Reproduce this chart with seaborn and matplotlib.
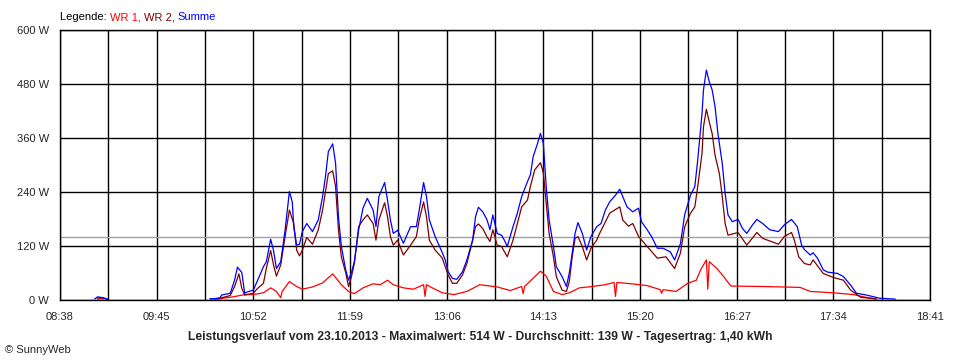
"""
Daily PV power curve (SunnyWeb style): WR 1, WR 2 and their sum.
"""

import numpy as np
import pandas as pd
import matplotlib
matplotlib.use("Agg")
import matplotlib.pyplot as plt
from matplotlib.ticker import FixedLocator, FuncFormatter
import seaborn as sns

# --- data (time of day, watts) ---
summe_time = [
    "09:02", "09:04", "09:06", "09:08", "09:11", "09:12",
    "10:22", "10:25", "10:29", "10:30", "10:36", "10:39", "10:41", "10:44", "10:46", "10:48",
    "10:52", "10:55", "10:59", "11:01", "11:04", "11:06", "11:08", "11:11", "11:14", "11:17",
    "11:19", "11:20", "11:22", "11:24", "11:26", "11:29", "11:33", "11:37", "11:40", "11:42",
    "11:44", "11:47", "11:49", "11:51", "11:53", "11:56", "11:58", "12:00", "12:02", "12:05",
    "12:08", "12:11", "12:15", "12:17", "12:19", "12:23", "12:25", "12:27", "12:29", "12:32",
    "12:36", "12:41", "12:45", "12:47", "12:50", "12:52", "12:54", "12:58", "13:03", "13:05",
    "13:07", "13:10", "13:13", "13:17", "13:20", "13:24", "13:26", "13:28", "13:31", "13:34",
    "13:36", "13:38", "13:41", "13:44", "13:46", "13:48", "13:52", "13:55", "13:58", "14:02",
    "14:04", "14:06", "14:09", "14:11", "14:13", "14:15", "14:17", "14:20", "14:22", "14:26",
    "14:29", "14:31", "14:33", "14:35", "14:37", "14:40", "14:43", "14:46", "14:50", "14:53",
    "14:56", "14:59", "15:03", "15:06", "15:08", "15:11", "15:15", "15:19", "15:21", "15:25",
    "15:28", "15:32", "15:36", "15:41", "15:44", "15:48", "15:51", "15:55", "15:58", "16:00",
    "16:03", "16:04", "16:06", "16:08", "16:10", "16:12", "16:14", "16:17", "16:19", "16:21",
    "16:24", "16:28", "16:31", "16:34", "16:38", "16:41", "16:45", "16:50", "16:56", "17:00",
    "17:05", "17:09", "17:12", "17:14", "17:18", "17:20", "17:23", "17:27", "17:30", "17:37",
    "17:41", "17:46", "17:50", "17:57", "18:06", "18:17",
]
summe_watt = [
    2, 7, 6, 5, 2, None,
    3, 3, 5, 11, 15, 44, 73, 61, 15, 18,
    22, 44, 74, 85, 135, 110, 70, 85, 155, 241,
    218, 163, 122, 124, 152, 170, 152, 178, 230, 274,
    330, 347, 304, 185, 119, 67, 44, 61, 85, 156,
    204, 226, 200, 163, 230, 261, 222, 178, 148, 155,
    126, 163, 163, 200, 261, 230, 178, 141, 105, 89,
    63, 48, 46, 63, 89, 133, 185, 206, 196, 178,
    156, 189, 148, 144, 133, 119, 163, 193, 230, 263,
    278, 319, 348, 370, 348, 252, 178, 119, 74, 52,
    30, 60, 104, 148, 172, 148, 111, 141, 163, 170,
    200, 218, 233, 246, 230, 207, 196, 204, 174, 156,
    141, 115, 115, 107, 89, 125, 190, 233, 252, 311,
    415, 467, 511, 485, 467, 430, 370, 304, 237, 189,
    174, 179, 159, 148, 167, 179, 170, 156, 152, 167,
    179, 163, 122, 112, 100, 105, 93, 67, 62, 59,
    52, 33, 15, 11, 4, 2,
]

wr2_time = [
    "09:04", "09:06", "09:08", "09:11", "09:12",
    "10:25", "10:29", "10:30", "10:36", "10:39", "10:42", "10:44", "10:46", "10:52", "10:55",
    "10:59", "11:01", "11:04", "11:06", "11:08", "11:11", "11:14", "11:17", "11:20", "11:22",
    "11:24", "11:26", "11:29", "11:33", "11:37", "11:40", "11:44", "11:47", "11:49", "11:51",
    "11:53", "11:56", "11:58", "12:00", "12:02", "12:05", "12:08", "12:11", "12:15", "12:17",
    "12:19", "12:23", "12:25", "12:27", "12:29", "12:32", "12:36", "12:41", "12:45", "12:47",
    "12:50", "12:52", "12:54", "12:58", "13:03", "13:05", "13:07", "13:10", "13:13", "13:17",
    "13:20", "13:24", "13:26", "13:28", "13:31", "13:34", "13:36", "13:38", "13:41", "13:44",
    "13:48", "13:52", "13:55", "13:58", "14:02", "14:04", "14:07", "14:11", "14:13", "14:15",
    "14:17", "14:20", "14:22", "14:26", "14:29", "14:31", "14:33", "14:35", "14:37", "14:40",
    "14:43", "14:46", "14:50", "14:52", "14:56", "14:59", "15:06", "15:08", "15:12", "15:15",
    "15:19", "15:25", "15:32", "15:38", "15:44", "15:48", "15:51", "15:55", "15:58", "16:00",
    "16:03", "16:04", "16:06", "16:08", "16:10", "16:12", "16:15", "16:17", "16:19", "16:21",
    "16:28", "16:34", "16:41", "16:45", "16:56", "17:00", "17:05", "17:07", "17:10", "17:14",
    "17:18", "17:20", "17:27", "17:34", "17:41", "17:46", "17:53", "18:02", "18:04",
]
wr2_watt = [
    4, 5, 4, 1, None,
    2, 3, 5, 10, 30, 58, 26, 11, 15, 26,
    37, 70, 110, 78, 53, 78, 141, 200, 170, 111,
    98, 111, 139, 124, 156, 200, 281, 287, 252, 156,
    96, 61, 30, 52, 81, 163, 178, 189, 170, 133,
    178, 216, 185, 141, 122, 133, 100, 122, 141, 178,
    218, 185, 133, 111, 93, 74, 56, 37, 37, 56,
    81, 133, 163, 169, 159, 140, 130, 156, 122, 119,
    96, 133, 170, 207, 222, 252, 289, 305, 283, 215,
    148, 96, 52, 22, 19, 41, 96, 137, 141, 119,
    89, 115, 133, 148, 174, 193, 207, 178, 164, 170,
    141, 119, 93, 96, 70, 104, 163, 193, 207, 252,
    326, 385, 424, 396, 370, 322, 281, 230, 170, 144,
    150, 122, 150, 137, 124, 141, 150, 133, 96, 81,
    78, 89, 59, 50, 44, 22, 6, 3, 2,
]

wr1_time = [
    "09:04", "09:06", "09:08", "09:09",
    "10:22", "10:29", "10:38", "10:46", "10:52", "10:59", "11:04", "11:08", "11:11", "11:12",
    "11:17", "11:22", "11:26", "11:33", "11:40", "11:47", "11:53", "11:58", "12:02", "12:08",
    "12:15", "12:20", "12:25", "12:29", "12:36", "12:43", "12:50", "12:51", "12:52", "12:56",
    "13:03", "13:11", "13:20", "13:29", "13:41", "13:50", "13:58", "13:59", "14:00", "14:11",
    "14:15", "14:20", "14:26", "14:31", "14:38", "14:47", "14:56", "15:02", "15:03", "15:04",
    "15:14", "15:25", "15:34", "15:35", "15:36", "15:45", "15:53", "15:59", "16:02", "16:06",
    "16:07", "16:08", "16:13", "16:18", "16:23", "16:45", "17:11", "17:18", "17:34", "17:48",
    "17:55", "18:02", "18:04",
]
wr1_watt = [
    2, 3, 2, None,
    2, 3, 7, 12, 12, 16, 27, 19, 5, 19,
    41, 30, 24, 29, 38, 58, 34, 19, 14, 27,
    36, 34, 44, 34, 27, 24, 34, 8, 34, 27,
    16, 12, 19, 34, 29, 21, 30, 14, 30, 64,
    53, 19, 12, 16, 27, 30, 34, 39, 8, 39,
    36, 32, 23, 15, 23, 19, 37, 44, 67, 89,
    24, 85, 71, 52, 31, 30, 28, 19, 16, 12,
    7, 3, 2,
]

average_watt = 139
tick_labels = ["08:38", "09:45", "10:52", "11:59", "13:06", "14:13",
               "15:20", "16:27", "17:34", "18:41"]
title_text = ("Leistungsverlauf vom 23.10.2013 - Maximalwert: 514 W - "
              "Durchschnitt: 139 W - Tagesertrag: 1,40 kWh")


def to_minutes(hhmm):
    h, m = hhmm.split(":")
    return int(h) * 60 + int(m)


def build_frame(times, watts, name):
    df = pd.DataFrame({
        "minute": [to_minutes(t) for t in times],
        "watt": [np.nan if w is None else w for w in watts],
    })
    # a missing value splits the curve into separate segments
    df["segment"] = df["watt"].isna().cumsum()
    df = df.dropna()
    df["series"] = name
    return df


frames = pd.concat([
    build_frame(wr1_time, wr1_watt, "WR 1"),
    build_frame(wr2_time, wr2_watt, "WR 2"),
    build_frame(summe_time, summe_watt, "Summe"),
], ignore_index=True)

colors = {"WR 1": "#ff0000", "WR 2": "#800000", "Summe": "#0000ff"}

sns.set_style("white")
plt.rcParams["font.family"] = ["Liberation Sans", "DejaVu Sans"]
plt.rcParams["font.size"] = 8

fig = plt.figure(figsize=(9.6, 3.6), dpi=100)
ax = fig.add_axes([60 / 960, 60 / 360, 870 / 960, 270 / 360])

# grid first, data on top
start = to_minutes(tick_labels[0])
end = to_minutes(tick_labels[-1])
major = [to_minutes(t) for t in tick_labels]
minor = [m + 33.5 for m in major[:-1]]
ax.xaxis.set_major_locator(FixedLocator(major))
ax.xaxis.set_minor_locator(FixedLocator(minor))
ax.set_xticklabels(tick_labels)
ax.set_yticks(np.arange(0, 601, 120))
ax.yaxis.set_major_formatter(FuncFormatter(lambda v, _: f"{int(v)} W"))
ax.grid(True, which="both", axis="x", color="black", linewidth=1)
ax.grid(True, which="major", axis="y", color="black", linewidth=1)
ax.set_axisbelow(True)

ax.axhline(average_watt, color="#a0a0a0", linewidth=1, zorder=1.5)

for name in ["WR 1", "WR 2", "Summe"]:
    sns.lineplot(
        data=frames[frames["series"] == name],
        x="minute", y="watt", units="segment", estimator=None,
        color=colors[name], linewidth=0.9, ax=ax, zorder=3,
    )

ax.set_xlim(start, end)
ax.set_ylim(0, 600)
ax.set_xlabel("")
ax.set_ylabel("")
for side in ax.spines.values():
    side.set_color("black")
    side.set_linewidth(1)
ax.tick_params(axis="both", which="both", direction="out", length=5,
               width=1, color="black", labelsize=8, pad=3)
ax.tick_params(axis="x", which="major", pad=4)

# coloured legend line at the top
txt = fig.text(60 / 960, 1 - 20 / 360, "Legende: ", color="black",
               fontsize=8, va="baseline")
for part, col in [("WR 1, ", colors["WR 1"]), ("WR 2, ", colors["WR 2"]),
                  ("Summe", colors["Summe"])]:
    txt = ax.annotate(part, xy=(1, 0), xycoords=txt, xytext=(0, 0),
                      textcoords="offset points", color=col, fontsize=8,
                      va="bottom", ha="left", annotation_clip=False)

fig.text(480 / 960, 1 - 337 / 360, title_text, ha="center", va="center",
         fontsize=8.75, fontweight="bold")
fig.text(5 / 960, 1 - 350 / 360, "\u00a9 SunnyWeb", ha="left", va="center",
         fontsize=8)

fig.savefig("out.png", dpi=100)
plt.close(fig)
